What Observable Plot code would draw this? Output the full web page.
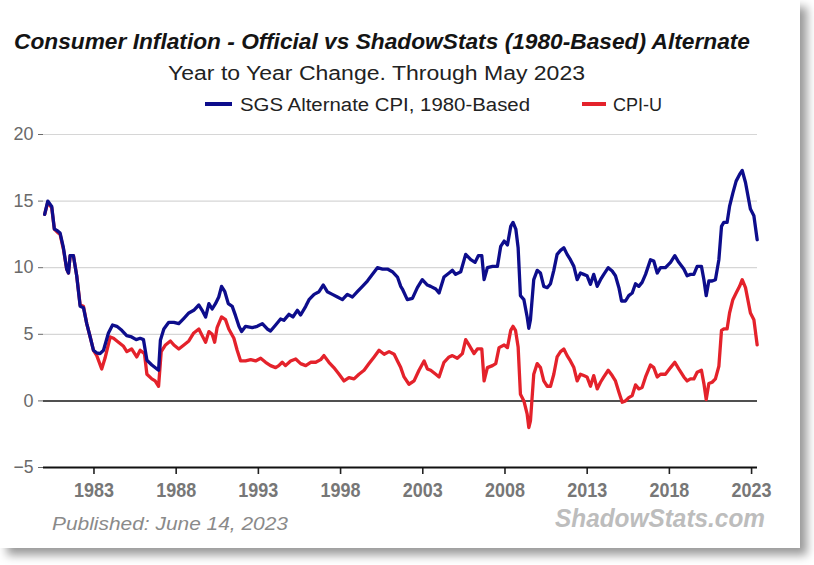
<!DOCTYPE html>
<html>
<head>
<meta charset="utf-8">
<script src="https://cdn.jsdelivr.net/npm/d3@7"></script>
<script src="https://cdn.jsdelivr.net/npm/@observablehq/plot@0.6"></script>
<style>
  html, body { margin: 0; padding: 0; background: #ffffff; }
  body { width: 814px; height: 565px; position: relative; overflow: hidden;
         font-family: "Liberation Sans Narrow", "Liberation Sans", Arial, sans-serif; }
  #card { position: absolute; left: 0; top: 0; width: 800px; height: 548px; background: #fff;
          box-shadow: 7px 7px 9px rgba(0,0,0,0.40); }
  #chart { position: absolute; left: 0; top: 110px; }
  svg.overlay { position: absolute; left: 0; top: 0; overflow: visible; }
</style>
</head>
<body>
<div id="card"></div>
<div id="chart"></div>
<svg class="overlay" id="header" width="800" height="120"></svg>
<svg class="overlay" id="footer" width="800" height="548"></svg>
<script>
// ---------------- data ----------------
const titleText = "Consumer Inflation - Official vs ShadowStats (1980-Based) Alternate";
const subtitleText = "Year to Year Change. Through May 2023";
const publishedText = "Published: June 14, 2023";
const brandText = "ShadowStats.com";

const seriesNames = ["SGS Alternate CPI, 1980-Based", "CPI-U"];
const seriesColors = ["#0d0d8c", "#e4222b"];

const yearTicks = [1983, 1988, 1993, 1998, 2003, 2008, 2013, 2018, 2023];
const valueTicks = [-5, 0, 5, 10, 15, 20];
const gridValues = [5, 10, 15, 20];

const sgsYears = [
  1980.0, 1980.19, 1980.43, 1980.59, 1980.74, 1980.94, 1981.14, 1981.34, 1981.45, 1981.55,
  1981.75, 1981.95, 1982.16, 1982.36, 1982.56, 1982.77, 1982.97, 1983.17, 1983.37, 1983.58,
  1983.88, 1984.13, 1984.39, 1984.69, 1984.99, 1985.29, 1985.57, 1985.81, 1986.01, 1986.22,
  1986.52, 1986.83, 1986.93, 1987.04, 1987.25, 1987.55, 1987.86, 1988.16, 1988.47, 1988.77,
  1989.07, 1989.38, 1989.58, 1989.79, 1989.99, 1990.19, 1990.39, 1990.59, 1990.76, 1990.96,
  1991.17, 1991.41, 1991.61, 1991.82, 1991.98, 1992.22, 1992.63, 1992.93, 1993.24, 1993.54,
  1993.74, 1994.05, 1994.35, 1994.55, 1994.86, 1995.1, 1995.37, 1995.57, 1995.88, 1996.08,
  1996.39, 1996.69, 1996.95, 1997.19, 1997.5, 1997.81, 1998.11, 1998.41, 1998.72, 1999.02,
  1999.33, 1999.63, 1999.94, 2000.24, 2000.55, 2000.85, 2001.15, 2001.46, 2001.66, 2001.76,
  2002.06, 2002.37, 2002.67, 2002.97, 2003.28, 2003.48, 2003.79, 2003.99, 2004.29, 2004.6,
  2004.8, 2005.0, 2005.31, 2005.61, 2005.92, 2006.18, 2006.38, 2006.59, 2006.73, 2006.93,
  2007.24, 2007.54, 2007.74, 2007.95, 2008.15, 2008.35, 2008.49, 2008.66, 2008.8, 2008.94,
  2009.15, 2009.35, 2009.45, 2009.55, 2009.75, 2009.96, 2010.16, 2010.36, 2010.57, 2010.77,
  2010.97, 2011.17, 2011.38, 2011.58, 2011.78, 2011.98, 2012.19, 2012.39, 2012.59, 2012.79,
  2012.99, 2013.2, 2013.4, 2013.61, 2013.81, 2014.01, 2014.28, 2014.52, 2014.72, 2014.93,
  2015.09, 2015.33, 2015.53, 2015.74, 2015.94, 2016.14, 2016.34, 2016.55, 2016.85, 2017.05,
  2017.26, 2017.46, 2017.76, 2018.07, 2018.33, 2018.57, 2018.88, 2019.08, 2019.28, 2019.49,
  2019.69, 2019.95, 2020.1, 2020.24, 2020.4, 2020.6, 2020.8, 2021.01, 2021.17, 2021.31,
  2021.51, 2021.66, 2021.86, 2022.06, 2022.27, 2022.43, 2022.63, 2022.93, 2023.14, 2023.34
];
const sgsValues = [
  14.0, 15.0, 14.6, 12.9, 12.8, 12.6, 11.5, 9.9, 9.6, 10.9,
  10.9, 9.4, 7.1, 7.0, 5.8, 4.8, 3.8, 3.6, 3.55, 3.8,
  5.1, 5.7, 5.6, 5.3, 4.9, 4.8, 4.6, 4.7, 4.6, 3.05,
  2.7, 2.4, 2.3, 4.55, 5.4, 5.9, 5.9, 5.8, 6.2, 6.6,
  6.8, 7.2, 6.8, 6.3, 7.3, 6.9, 7.3, 7.8, 8.6, 8.2,
  7.3, 7.1, 6.4, 5.6, 5.2, 5.6, 5.5, 5.6, 5.8, 5.4,
  5.25, 5.7, 6.15, 6.05, 6.5, 6.3, 6.8, 6.45, 7.1, 7.6,
  8.0, 8.2, 8.7, 8.2, 8.0, 7.8, 7.6, 8.0, 7.8, 8.2,
  8.6, 9.0, 9.5, 10.0, 9.9, 9.9, 9.7, 9.3, 8.6, 8.4,
  7.6, 7.7, 8.5, 9.1, 8.7, 8.6, 8.4, 8.1, 9.3, 9.6,
  9.8, 9.5, 9.7, 11.0, 10.6, 10.4, 10.9, 10.9, 9.1, 10.0,
  10.1, 10.1, 11.6, 12.0, 11.7, 13.1, 13.4, 12.9, 11.5, 7.9,
  7.6, 6.3, 5.45, 6.1, 9.1, 9.8, 9.6, 8.6, 8.5, 8.8,
  9.8, 11.0, 11.3, 11.5, 11.0, 10.6, 10.1, 9.1, 9.6, 9.5,
  9.4, 8.75, 9.5, 8.6, 9.1, 9.5, 10.0, 9.75, 9.4, 8.5,
  7.5, 7.5, 7.9, 8.1, 8.8, 8.6, 8.9, 9.5, 10.6, 10.5,
  9.6, 10.0, 10.0, 10.4, 10.9, 10.4, 9.9, 9.4, 9.5, 9.5,
  10.1, 10.1, 9.1, 7.9, 9.0, 9.0, 9.1, 10.6, 13.1, 13.4,
  13.4, 14.6, 15.6, 16.5, 17.0, 17.3, 16.4, 14.4, 13.9, 12.1
];

const cpiYears = [
  1980.0, 1980.19, 1980.43, 1980.59, 1980.74, 1980.94, 1981.14, 1981.34, 1981.45, 1981.55,
  1981.75, 1981.95, 1982.16, 1982.36, 1982.56, 1982.77, 1982.97, 1983.17, 1983.47, 1983.67,
  1983.99, 1984.19, 1984.49, 1984.8, 1985.0, 1985.29, 1985.6, 1985.81, 1986.07, 1986.22,
  1986.52, 1986.72, 1986.93, 1987.09, 1987.35, 1987.65, 1987.86, 1988.16, 1988.47, 1988.77,
  1989.07, 1989.38, 1989.58, 1989.79, 1989.99, 1990.19, 1990.34, 1990.49, 1990.76, 1991.0,
  1991.2, 1991.51, 1991.71, 1991.92, 1992.22, 1992.53, 1992.83, 1993.14, 1993.44, 1993.74,
  1994.05, 1994.24, 1994.45, 1994.65, 1994.96, 1995.27, 1995.57, 1995.88, 1996.18, 1996.49,
  1996.79, 1996.99, 1997.29, 1997.59, 1997.91, 1998.21, 1998.51, 1998.82, 1999.12, 1999.43,
  1999.73, 2000.04, 2000.34, 2000.65, 2000.95, 2001.26, 2001.46, 2001.66, 2001.86, 2002.16,
  2002.47, 2002.77, 2003.08, 2003.28, 2003.48, 2003.79, 2003.99, 2004.29, 2004.6, 2004.8,
  2005.1, 2005.41, 2005.61, 2005.81, 2006.12, 2006.32, 2006.59, 2006.73, 2006.93, 2007.24,
  2007.44, 2007.64, 2007.95, 2008.15, 2008.35, 2008.49, 2008.64, 2008.8, 2008.94, 2009.15,
  2009.35, 2009.45, 2009.55, 2009.75, 2009.96, 2010.16, 2010.36, 2010.57, 2010.77, 2010.97,
  2011.17, 2011.38, 2011.58, 2011.78, 2011.98, 2012.19, 2012.39, 2012.59, 2012.79, 2012.99,
  2013.2, 2013.4, 2013.61, 2013.81, 2014.01, 2014.28, 2014.52, 2014.72, 2014.93, 2015.13,
  2015.33, 2015.53, 2015.74, 2015.94, 2016.14, 2016.34, 2016.55, 2016.85, 2017.05, 2017.26,
  2017.46, 2017.76, 2018.07, 2018.33, 2018.57, 2018.88, 2019.08, 2019.28, 2019.49, 2019.69,
  2019.95, 2020.1, 2020.24, 2020.4, 2020.6, 2020.8, 2021.01, 2021.17, 2021.31, 2021.51,
  2021.66, 2021.86, 2022.06, 2022.27, 2022.43, 2022.63, 2022.93, 2023.14, 2023.34
];
const cpiValues = [
  14.0, 14.9, 14.5, 12.9, 12.7, 12.5, 11.4, 9.9, 9.6, 10.9,
  10.9, 9.4, 7.2, 7.1, 5.8, 4.8, 3.8, 3.4, 2.4, 3.2,
  4.8, 4.7, 4.4, 4.1, 3.7, 3.9, 3.3, 3.8, 3.55, 2.0,
  1.65, 1.5, 1.1, 3.7, 4.2, 4.5, 4.2, 3.9, 4.2, 4.5,
  5.1, 5.4, 4.9, 4.4, 5.2, 5.0, 4.4, 5.5, 6.3, 6.1,
  5.4, 4.7, 3.8, 3.0, 3.0, 3.1, 3.0, 3.2, 2.9, 2.65,
  2.5, 2.65, 2.9, 2.65, 3.0, 3.15, 2.8, 2.65, 2.9, 2.9,
  3.1, 3.4, 2.9, 2.5, 2.0, 1.5, 1.75, 1.65, 2.0, 2.3,
  2.8, 3.3, 3.8, 3.5, 3.7, 3.5, 3.0, 2.5, 1.8, 1.25,
  1.5, 2.3, 3.0, 2.4, 2.3, 2.0, 1.8, 2.9, 3.3, 3.4,
  3.2, 3.55, 4.6, 4.2, 3.55, 3.9, 3.9, 1.5, 2.5, 2.65,
  2.8, 4.0, 4.2, 4.0, 5.3, 5.6, 5.3, 4.05, 0.5, 0.0,
  -1.0, -2.0, -1.5, 2.0, 2.8, 2.5, 1.5, 1.1, 1.1, 2.0,
  3.3, 3.7, 3.9, 3.4, 3.0, 2.5, 1.5, 2.0, 1.9, 1.8,
  1.1, 1.9, 0.9, 1.4, 1.8, 2.3, 1.9, 1.5, 0.65, -0.1,
  0.0, 0.25, 0.4, 1.2, 0.9, 1.0, 1.8, 2.7, 2.5, 1.8,
  2.0, 2.0, 2.5, 2.9, 2.4, 1.8, 1.5, 1.65, 1.65, 2.15,
  2.3, 1.3, 0.1, 1.3, 1.4, 1.65, 2.6, 5.3, 5.4, 5.4,
  6.6, 7.6, 8.1, 8.6, 9.1, 8.5, 6.6, 6.1, 4.2
];

// ---------------- build ----------------
const FONT = '"Liberation Sans Narrow", "Liberation Sans", Arial, sans-serif';
const sgs = sgsYears.map((t, i) => ({t, v: sgsValues[i]}));
const cpi = cpiYears.map((t, i) => ({t, v: cpiValues[i]}));

const chart = Plot.plot({
  width: 814,
  height: 400,
  marginLeft: 43,
  marginRight: 57,
  marginTop: 24,
  marginBottom: 43,
  style: {fontFamily: FONT, fontSize: "18px", color: "#6a6a6a", background: "transparent", overflow: "visible"},
  x: {domain: [1979.93, 2023.36], ticks: yearTicks, tickFormat: d => String(d), tickSize: 7, tickPadding: 8, label: null},
  y: {domain: [-5, 20], ticks: valueTicks, tickSize: 5, tickPadding: 5, label: null},
  marks: [
    Plot.ruleY(gridValues, {stroke: "#d6d6d6", strokeWidth: 1.2}),
    Plot.ruleY([0], {stroke: "#505050", strokeWidth: 2}),
    Plot.ruleY([-5], {stroke: "#111", strokeWidth: 2}),
    Plot.line(cpi, {x: "t", y: "v", stroke: seriesColors[1], strokeWidth: 3.3, strokeLinejoin: "round"}),
    Plot.line(sgs, {x: "t", y: "v", stroke: seriesColors[0], strokeWidth: 3.3, strokeLinejoin: "round"})
  ]
});
document.getElementById("chart").appendChild(chart);

// style x axis: bold, condensed grey labels, dark tick marks
d3.select(chart).selectAll('[aria-label^="x-axis"] text')
  .attr("font-weight", "bold").attr("fill", "#777").attr("font-size", "20px")
  .attr("textLength", 40).attr("lengthAdjust", "spacingAndGlyphs");
d3.select(chart).selectAll('[aria-label^="x-axis"] path, [aria-label^="x-axis"] line')
  .attr("stroke", "#222").attr("stroke-width", 1.6);
// y axis labels slightly condensed like the original
d3.select(chart).selectAll('[aria-label^="y-axis"] text').each(function () {
  const n = this.textContent.length;
  d3.select(this).attr("textLength", n * 10).attr("lengthAdjust", "spacingAndGlyphs");
});

// header: title, subtitle, legend
const header = d3.select("#header");
header.append("text").text(titleText)
  .attr("x", 382).attr("y", 49).attr("text-anchor", "middle")
  .attr("font-family", FONT).attr("font-size", 22).attr("font-weight", "bold").attr("font-style", "italic")
  .attr("fill", "#141414").attr("textLength", 736).attr("lengthAdjust", "spacingAndGlyphs");
header.append("text").text(subtitleText)
  .attr("x", 376.5).attr("y", 80).attr("text-anchor", "middle")
  .attr("font-family", FONT).attr("font-size", 20).attr("fill", "#222")
  .attr("textLength", 417).attr("lengthAdjust", "spacingAndGlyphs");

const legendItems = [
  {name: seriesNames[0], color: seriesColors[0], x0: 205, x1: 232, tx: 240, tw: 290},
  {name: seriesNames[1], color: seriesColors[1], x0: 582, x1: 606, tx: 613, tw: 49}
];
for (const it of legendItems) {
  header.append("line").attr("x1", it.x0).attr("x2", it.x1).attr("y1", 104).attr("y2", 104)
    .attr("stroke", it.color).attr("stroke-width", 4);
  header.append("text").text(it.name).attr("x", it.tx).attr("y", 111)
    .attr("font-family", FONT).attr("font-size", 18).attr("fill", "#222")
    .attr("textLength", it.tw).attr("lengthAdjust", "spacingAndGlyphs");
}

// footer
const footer = d3.select("#footer");
footer.append("text").text(publishedText).attr("x", 52).attr("y", 530)
  .attr("font-family", FONT).attr("font-size", 18).attr("font-style", "italic").attr("fill", "#8a8a8a")
  .attr("textLength", 236).attr("lengthAdjust", "spacingAndGlyphs");
footer.append("text").text(brandText).attr("x", 555).attr("y", 527)
  .attr("font-family", FONT).attr("font-size", 25).attr("font-style", "italic").attr("font-weight", "bold")
  .attr("fill", "#bdbdbd").attr("textLength", 210).attr("lengthAdjust", "spacingAndGlyphs");
</script>
</body>
</html>
